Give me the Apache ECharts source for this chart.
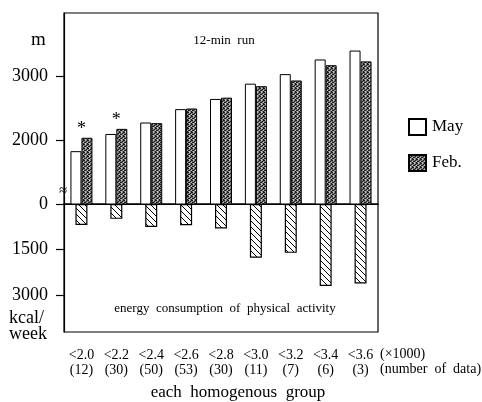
<!DOCTYPE html>
<html>
<head>
<meta charset="utf-8">
<script src="https://cdn.jsdelivr.net/npm/echarts@6/dist/echarts.min.js"></script>
<style>
  html, body { margin: 0; padding: 0; background: #fff; }
  #main { width: 482px; height: 402px; }
</style>
</head>
<body>
<div id="main"></div>
<script>
// groups (x 1000) and number of data
var groups = ['<2.0', '<2.2', '<2.4', '<2.6', '<2.8', '<3.0', '<3.2', '<3.4', '<3.6'];
var counts = ['(12)', '(30)', '(50)', '(53)', '(30)', '(11)', '(7)', '(6)', '(3)'];
// 12-min run distance (m)
var runMay = [1830, 2100, 2280, 2490, 2650, 2890, 3040, 3270, 3410];
var runFeb = [2040, 2180, 2270, 2500, 2670, 2850, 2940, 3180, 3240];
var signif = ['*', '*', '', '', '', '', '', '', ''];
// energy consumption of physical activity (kcal/week)
var energy = [690, 490, 760, 700, 810, 1770, 1610, 2700, 2620];
// tick values; the run axis is broken, its lowest tick is labelled 0
var runTicks = [1000, 2000, 3000];
var energyTicks = [1500, 3000];

var FONT = 'Liberation Serif';

function hatchTile() {
  var c = document.createElement('canvas');
  c.width = 6; c.height = 6;
  var g = c.getContext('2d');
  g.fillStyle = '#fff';
  g.fillRect(0, 0, 6, 6);
  g.strokeStyle = '#000';
  g.lineWidth = 1;
  g.beginPath();
  g.moveTo(0, 0); g.lineTo(6, 6);
  g.moveTo(-3, 3); g.lineTo(3, 9);
  g.moveTo(3, -3); g.lineTo(9, 3);
  g.stroke();
  return c;
}

function speckleTile() {
  var c = document.createElement('canvas');
  c.width = 4; c.height = 4;
  var g = c.getContext('2d');
  g.fillStyle = '#7a7a7a';
  g.fillRect(0, 0, 4, 4);
  g.fillStyle = '#1a1a1a';
  [[0, 0], [2, 1], [1, 2], [3, 3], [3, 0], [0, 2]].forEach(function (p) { g.fillRect(p[0], p[1], 1, 1); });
  g.fillStyle = '#c4c4c4';
  [[1, 0], [3, 2], [1, 3]].forEach(function (p) { g.fillRect(p[0], p[1], 1, 1); });
  return c;
}

var febData = runFeb.map(function (v, i) {
  if (!signif[i]) return v;
  return { value: v, label: { show: true, formatter: signif[i], position: 'top', distance: 0, offset: [-5.5, 0], fontSize: 18, fontFamily: FONT, color: '#000' } };
});

var chart = echarts.init(document.getElementById('main'));

var option = {
  animation: false,
  backgroundColor: '#fff',
  textStyle: { fontFamily: FONT, color: '#000' },
  legend: {
    orient: 'vertical',
    left: 403,
    top: 113,
    itemWidth: 17,
    itemHeight: 16,
    itemGap: 18,
    icon: 'rect',
    data: ['May', 'Feb.'],
    textStyle: { fontFamily: FONT, fontSize: 17, color: '#000', padding: [0, 0, 0, 1] }
  },
  grid: [
    { left: 64, width: 314, top: 13, height: 191, show: true, borderColor: '#000', borderWidth: 1.2, containLabel: false },
    { left: 64, width: 314, top: 204, height: 128, show: true, borderColor: '#000', borderWidth: 1.2, containLabel: false }
  ],
  xAxis: [
    {
      type: 'category', gridIndex: 0, data: groups,
      axisLine: { show: true, lineStyle: { color: '#000', width: 1.2 } },
      axisTick: { show: false }, axisLabel: { show: false }
    },
    {
      type: 'category', gridIndex: 1, data: groups, position: 'bottom',
      axisLine: { show: false },
      axisTick: { show: true, alignWithLabel: true, length: 8, lineStyle: { color: '#000', width: 1.2 } },
      axisLabel: {
        margin: 16, fontFamily: FONT, fontSize: 14, color: '#000', lineHeight: 15,
        formatter: function (v, i) { return v + '\n' + counts[i]; }
      }
    }
  ],
  yAxis: [
    {
      type: 'value', gridIndex: 0, min: 1000, max: 4000,
      axisLine: { show: true, lineStyle: { color: '#000', width: 1.2 } },
      axisTick: { show: true, length: 8, customValues: runTicks, lineStyle: { color: '#000', width: 1.2 } },
      axisLabel: {
        margin: 16, fontFamily: FONT, fontSize: 18, color: '#000', customValues: runTicks,
        formatter: function (v) { return v === runTicks[0] ? '0' : String(v); }
      },
      splitLine: { show: false }
    },
    {
      type: 'value', gridIndex: 1, min: 0, max: 4220, inverse: true,
      axisLine: { show: true, lineStyle: { color: '#000', width: 1.2 } },
      axisTick: { show: true, length: 8, customValues: energyTicks, lineStyle: { color: '#000', width: 1.2 } },
      axisLabel: {
        margin: 16, fontFamily: FONT, fontSize: 18, color: '#000', customValues: energyTicks,
        formatter: function (v) { return String(v); }
      },
      splitLine: { show: false }
    }
  ],
  series: [
    {
      name: 'May', type: 'bar', xAxisIndex: 0, yAxisIndex: 0, data: runMay,
      barWidth: 11, barGap: '0%',
      itemStyle: { color: '#fff', borderColor: '#000', borderWidth: 1 }
    },
    {
      name: 'Feb.', type: 'bar', xAxisIndex: 0, yAxisIndex: 0, data: febData,
      barWidth: 11, barGap: '0%',
      itemStyle: { color: { image: speckleTile(), repeat: 'repeat' }, borderColor: '#000', borderWidth: 1 }
    },
    {
      name: 'energy', type: 'bar', xAxisIndex: 1, yAxisIndex: 1, data: energy,
      barWidth: 12,
      itemStyle: { color: { image: hatchTile(), repeat: 'repeat' }, borderColor: '#000', borderWidth: 1.2 }
    }
  ],
  graphic: [
    { type: 'text', left: 31, top: 31, style: { text: 'm', font: '19px ' + FONT, fill: '#000' } },
    { type: 'text', left: 9, top: 309, style: { text: 'kcal/', font: '18px ' + FONT, fill: '#000' } },
    { type: 'text', left: 9, top: 325, style: { text: 'week', font: '18px ' + FONT, fill: '#000' } },
    { type: 'text', x: 224, y: 41, style: { text: '12-min  run', font: '13px ' + FONT, fill: '#000', align: 'center', verticalAlign: 'middle' } },
    { type: 'text', x: 225, y: 309, style: { text: 'energy  consumption  of  physical  activity', font: '13px ' + FONT, fill: '#000', align: 'center', verticalAlign: 'middle' } },
    { type: 'text', x: 238, y: 393, style: { text: 'each  homogenous  group', font: '17px ' + FONT, fill: '#000', align: 'center', verticalAlign: 'middle' } },
    { type: 'text', x: 380, y: 354, style: { text: '(\u00d71000)', font: '14px ' + FONT, fill: '#000', verticalAlign: 'middle' } },
    { type: 'text', x: 380, y: 369, style: { text: '(number  of  data)', font: '14px ' + FONT, fill: '#000', verticalAlign: 'middle' } },
    { type: 'text', x: 63, y: 191, z: 100, style: { text: '\u2248', font: '15px ' + FONT, fill: '#000', align: 'center', verticalAlign: 'middle' } }
  ]
};

chart.setOption(option);
</script>
</body>
</html>
